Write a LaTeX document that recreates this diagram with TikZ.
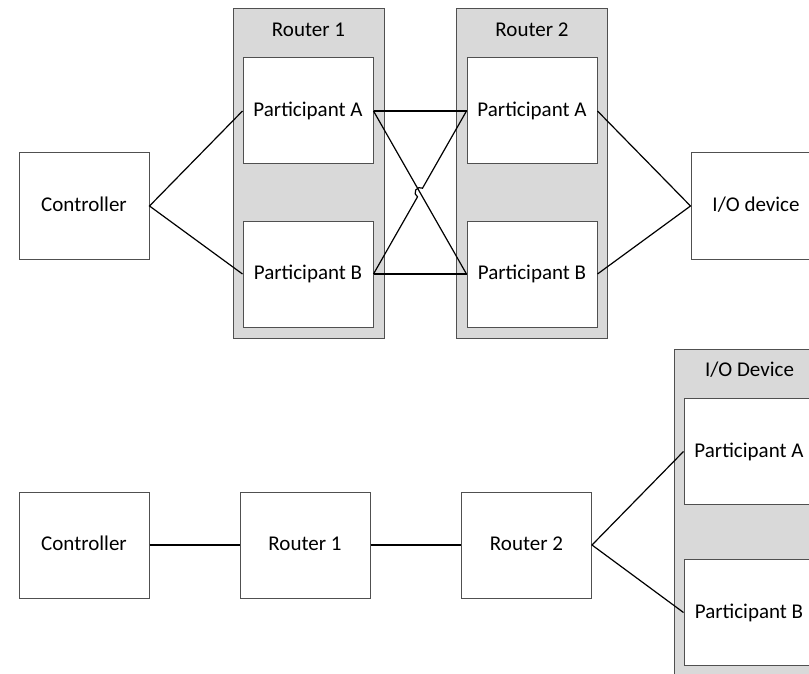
\documentclass[tikz,border=0pt]{standalone}
\usepackage{fontspec}
\setmainfont{Carlito}
\usepackage{xcolor}
\usepackage{tikz}
\usetikzlibrary{calc,positioning}

\definecolor{boxline}{RGB}{80,80,80}
\definecolor{groupfill}{RGB}{217,217,217}

\begin{document}
\begin{tikzpicture}[x=0.5pt, y=0.5pt,
    font=\fontsize{10.5}{12}\selectfont,
    box/.style={draw=boxline, line width=0.5pt, fill=white, minimum width=65pt, minimum height=53pt,
      inner sep=0pt, text height=1.6ex, text depth=0.4ex},
    group/.style={draw=boxline, line width=0.5pt, fill=groupfill, minimum width=75.5pt, inner sep=0pt},
    wire/.style={draw=black, line width=0.6pt}]
  \useasboundingbox (0,0) rectangle (809,-674);
  \clip (0,0) rectangle (809,-674);

  % Redundant routers
  \begin{scope}
    \node[group, minimum height=165pt] (rt1) at (308.5,-173.5) {};
    \node[group, minimum height=165pt] (rt2) at (532,-173.5) {};
    \node (rt1title) at (308.5,-30) {Router 1};
    \node (rt2title) at (532,-30) {Router 2};

    \node[box] (ctrl) at (84,-206) {Controller};
    \node[box] (p1a) at (308,-111) {Participant A};
    \node[box] (p1b) at (308,-274) {Participant B};
    \node[box] (p2a) at (532,-111) {Participant A};
    \node[box] (p2b) at (532,-274) {Participant B};
    \node[box] (io) at (756,-206) {I/O device};

    \draw[wire] (p1a.west) -- (ctrl.east) -- (p1b.west);
    \draw[wire] (p2a.east) -- (io.west) -- (p2b.east);
    \draw[wire] (p1a.east) -- (p2a.west);
    \draw[wire] (p1b.east) -- (p2b.west);
    \draw[wire] (p1a.east) -- (p2b.west);

    % crossing with a small hop
    \coordinate (x) at (intersection of p1a.east--p2b.west and p1b.east--p2a.west);
    \draw[wire] (p1b.east) -- ($(x)!2.5pt!(p1b.east)$)
      arc[start angle=240, end angle=60, radius=2.5pt] -- (p2a.west);
  \end{scope}

  % Single routers, redundant device
  \begin{scope}
    \node[group, minimum height=180pt] (dev) at (749.5,-529) {};
    \node (devtitle) at (749.5,-370) {I/O Device};

    \node[box] (ctrl2) at (84,-545) {Controller};
    \node[box] (r1) at (305,-545) {Router 1};
    \node[box] (r2) at (526.5,-545) {Router 2};
    \node[box] (qa) at (749,-451.5) {Participant A};
    \node[box] (qb) at (749,-612.5) {Participant B};

    \draw[wire] (ctrl2) -- (r1) -- (r2);
    \draw[wire] (qa.west) -- (r2.east) -- (qb.west);
  \end{scope}
\end{tikzpicture}
\end{document}
